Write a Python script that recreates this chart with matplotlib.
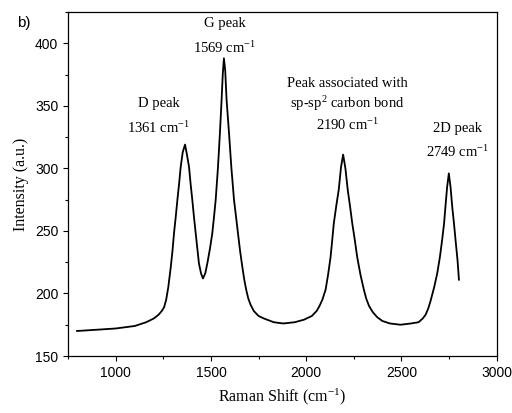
import matplotlib
matplotlib.use('Agg')
import matplotlib.pyplot as plt
from matplotlib.ticker import MultipleLocator

plt.rcParams['font.family'] = ['Liberation Serif', 'DejaVu Serif']
plt.rcParams['mathtext.fontset'] = 'custom'
plt.rcParams['mathtext.rm'] = 'Liberation Serif'
plt.rcParams['mathtext.it'] = 'Liberation Serif:italic'
plt.rcParams['mathtext.bf'] = 'Liberation Serif:bold'

# raman spectrum
shift = [797, 900, 1000, 1100, 1160, 1200, 1225, 1242, 1254, 1265, 1276, 1289,
         1298, 1306, 1315, 1324, 1333, 1341, 1352, 1364, 1374, 1385, 1393, 1402,
         1411, 1420, 1437, 1448, 1458, 1470, 1481, 1495, 1507, 1516, 1525, 1537,
         1547, 1556, 1562, 1568, 1575, 1582, 1595, 1607, 1621, 1632, 1642, 1653,
         1665, 1675, 1685, 1696, 1708, 1725, 1750, 1778, 1830, 1880, 1940, 1988,
         2030, 2055, 2070, 2085, 2102, 2115, 2128, 2137, 2145, 2158, 2171, 2183,
         2194, 2206, 2218, 2230, 2242, 2255, 2268, 2285, 2303, 2315, 2330, 2350,
         2373, 2400, 2440, 2495, 2550, 2590, 2612, 2627, 2641, 2653, 2672, 2688,
         2702, 2714, 2724, 2731, 2740, 2749, 2758, 2767, 2776, 2784, 2795, 2802]
intensity = [170, 171, 172, 174, 177, 180, 183, 186, 189, 195, 205, 221,
             234, 248, 261, 275, 288, 301, 313, 319, 311, 301, 288, 275,
             261, 248, 224, 216, 212, 216, 224, 236, 248, 261, 275, 301,
             328, 355, 375, 388, 378, 355, 328, 301, 275, 261, 248, 234,
             221, 211, 203, 196, 191, 186, 182, 180, 177, 176, 177, 179,
             182, 186, 190, 195, 203, 215, 229, 243, 256, 270, 283, 301,
             311, 300, 283, 270, 256, 243, 229, 215, 203, 196, 190, 185,
             181, 178, 176, 175, 176, 177, 180, 183, 188, 194, 205, 216,
             229, 243, 256, 269, 285, 296, 285, 269, 256, 243, 226, 211]

# annotations: (x, y, text)
labels = [
    (1226, 352, 'D peak'), (1226, 332, '1361 cm$^{-1}$'),
    (1572, 416, 'G peak'), (1572, 396, '1569 cm$^{-1}$'),
    (2217, 368, 'Peak associated with'), (2217, 352, 'sp-sp$^{2}$ carbon bond'),
    (2217, 335, '2190 cm$^{-1}$'),
    (2794, 332, '2D peak'), (2794, 313, '2749 cm$^{-1}$'),
]

fig = plt.figure(figsize=(5.12, 4.13), dpi=100)
ax = fig.add_axes([0.133, 0.138, 0.837, 0.833])

ax.plot(shift, intensity, color='black', lw=1.3, solid_joinstyle='round')

for x, y, s in labels:
    ax.text(x, y, s, ha='center', va='center', fontsize=10.5)

ax.set_xlim(750, 3000)
ax.set_ylim(150, 425)
ax.xaxis.set_major_locator(MultipleLocator(500))
ax.xaxis.set_minor_locator(MultipleLocator(250))
ax.yaxis.set_major_locator(MultipleLocator(50))
ax.yaxis.set_minor_locator(MultipleLocator(25))
ax.tick_params(which='major', direction='out', length=3.5, width=0.8)
ax.tick_params(which='minor', direction='out', length=2, width=0.8)
for lab in ax.get_xticklabels() + ax.get_yticklabels():
    lab.set_fontfamily('Liberation Sans')
    lab.set_fontsize(10)
for sp in ax.spines.values():
    sp.set_linewidth(0.9)

ax.set_xlabel('Raman Shift (cm$^{-1}$)', fontsize=11.5, labelpad=5)
ax.set_ylabel('Intensity (a.u.)', fontsize=11.5, labelpad=4)

fig.text(24 / 512, 1 - 23 / 413, 'b)', family='Liberation Sans', fontsize=11,
         ha='center', va='center')

fig.savefig('out.png', dpi=100)
